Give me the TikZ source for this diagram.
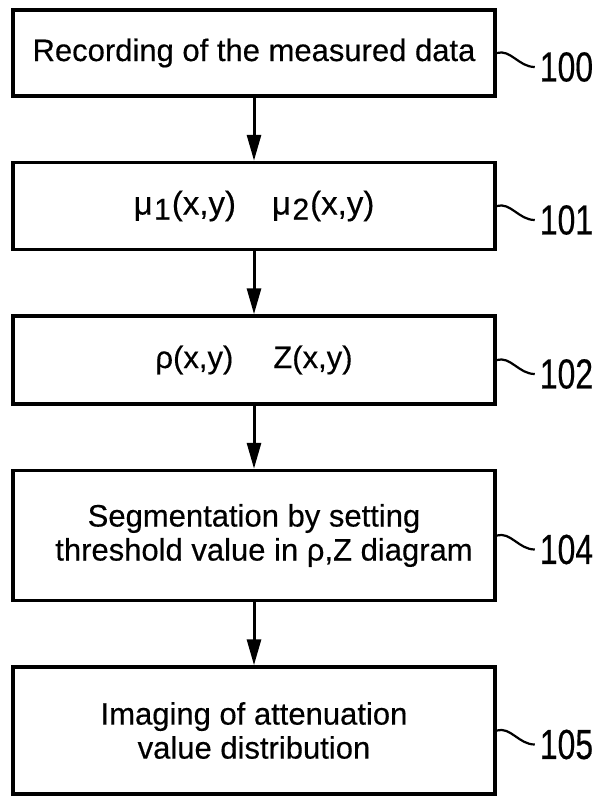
\documentclass[tikz,border=0pt]{standalone}
\usepackage{fontspec}
\setmainfont[FakeBold=0.4]{Liberation Sans}
\newfontfamily\refnumfont[FakeStretch=0.76,FakeBold=0.4]{Liberation Sans}
\usetikzlibrary{arrows.meta,positioning}
\newcommand{\lowidx}[1]{\kern1.5pt\raisebox{-5pt}{\fontsize{30}{30}\selectfont #1}\kern1pt}

\begin{document}
\begin{tikzpicture}[
		x=1pt, y=1pt,
		node distance=63pt,
		arrow/.style={line width=3pt, -{Triangle[length=26pt,width=14pt]}},
		block/.style={draw, line width=3.5pt, minimum width=482pt, inner sep=0pt, align=center, font=\fontsize{31}{34}\selectfont},
		refline/.style={line width=2.2pt},
		refnum/.style={anchor=west, inner sep=4pt, font=\refnumfont\fontsize{42}{42}\selectfont},
	]
		\useasboundingbox (0,0) rectangle (602,-798);
		\node (rec) [block, minimum height=86pt] at (254,-53) {Recording of the measured data};
		\node (mu) [block, below=of rec, minimum height=87pt, font=\fontsize{33}{36}\selectfont] {μ\lowidx{1}(x,y)\hspace{36pt}μ\lowidx{2}(x,y)};
		\node (rho) [block, below=of mu, minimum height=88pt] {ρ(x,y)\hspace{40pt}Z(x,y)};
		\node (seg) [block, below=of rho, minimum height=130pt] {Segmentation by setting\\ \hspace{20pt}threshold value in ρ,Z diagram};
		\node (img) [block, below=of seg, minimum height=127pt] {Imaging of attenuation\\value distribution};
		
		\draw[arrow] (rec) -- (mu);
		\draw[arrow] (mu) -- (rho);
		\draw[arrow] (rho) -- (seg);
		\draw[arrow] (seg) -- (img);
		
		\draw[refline] (rec.east) .. controls +(14,4) and +(-16,0) .. +(38,-14) node[refnum] {100};
		\draw[refline] (mu.east) .. controls +(14,4) and +(-16,0) .. +(38,-14) node[refnum] {101};
		\draw[refline] (rho.east) .. controls +(14,4) and +(-16,0) .. +(38,-14) node[refnum] {102};
		\draw[refline] (seg.east) .. controls +(14,4) and +(-16,0) .. +(38,-14) node[refnum] {104};
		\draw[refline] (img.east) .. controls +(14,4) and +(-16,0) .. +(38,-14) node[refnum] {105};
	\end{tikzpicture}
\end{document}
